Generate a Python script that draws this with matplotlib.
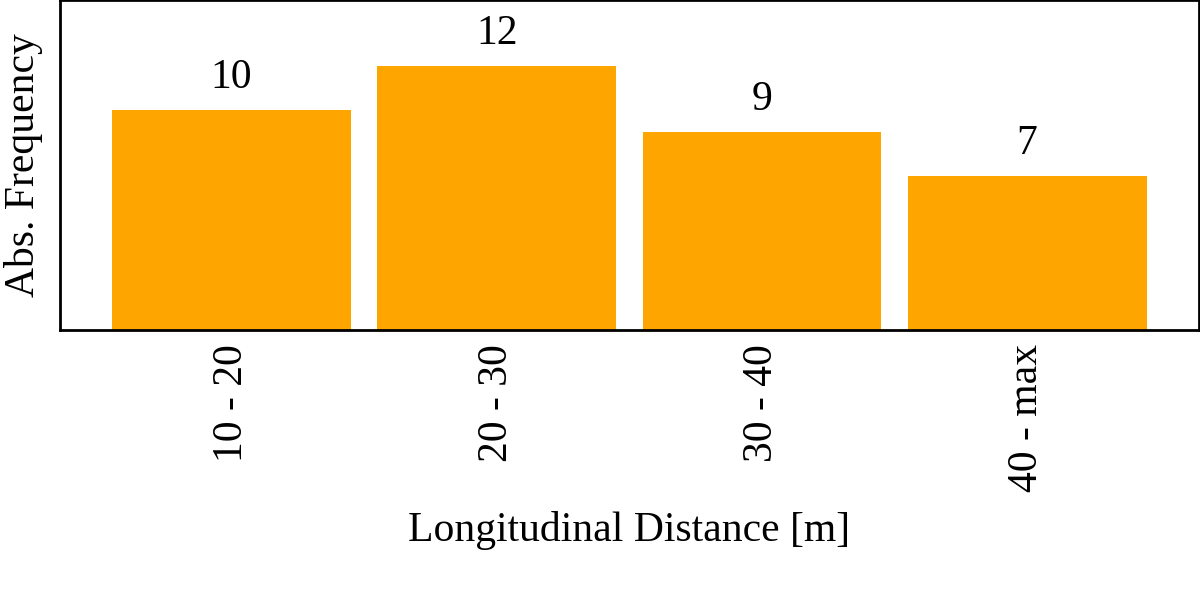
import matplotlib
matplotlib.use("Agg")
import matplotlib.pyplot as plt

# data
categories = ["10 - 20", "20 - 30", "30 - 40", "40 - max"]
counts = [10, 12, 9, 7]

plt.rcParams["font.family"] = ["Liberation Serif", "DejaVu Serif"]
plt.rcParams["font.size"] = 30

fig = plt.figure(figsize=(12, 6), dpi=100)
ax = fig.add_axes([0.05, 0.45, 0.949, 0.55])

x = range(len(categories))
ax.bar(x, counts, width=0.9, color="#FFA500")
for xi, c in zip(x, counts):
    ax.text(xi, c + 0.6, str(c), ha="center", va="bottom", fontsize=30)

ax.set_xlim(-0.646, 3.647)
ax.set_ylim(0, 15)
ax.set_xticks(list(x))
ax.set_xticklabels(categories, rotation=90)
ax.set_yticks([])
ax.tick_params(axis="x", length=0, pad=10)
for s in ax.spines.values():
    s.set_linewidth(2)

ax.set_xlabel("Longitudinal Distance [m]", labelpad=14)
ax.set_ylabel("Abs. Frequency", labelpad=12)

fig.savefig("out.png", dpi=100)
